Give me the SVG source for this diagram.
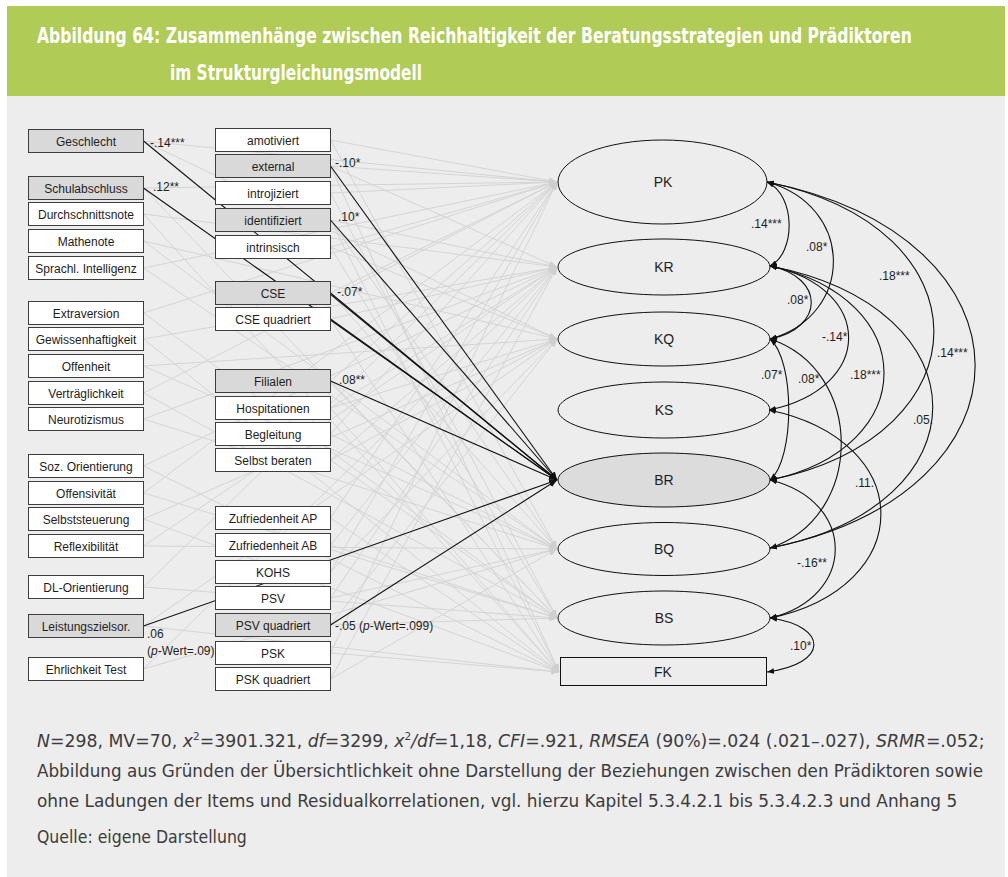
<svg xmlns="http://www.w3.org/2000/svg" width="1008" height="877" viewBox="0 0 1008 877">
<style>
  .box { fill:#ffffff; stroke:#3d3d3d; stroke-width:1; }
  .box.sel { fill:#d9d9d9; }
  .lbl { font-family:"Liberation Sans",Arial,sans-serif; font-size:12px; fill:#1e1e1e; text-anchor:middle; }
  .coef { font-family:"Liberation Sans",Arial,sans-serif; font-size:12px; fill:#1e1e1e; }
  .lv { fill:none; stroke:#111111; stroke-width:1; }
  .lv.dv { fill:#dcdcdc; }
  .lvt { font-family:"Liberation Sans",Arial,sans-serif; font-size:14px; fill:#1e1e1e; text-anchor:middle; }
  .ns { fill:none; stroke:#d4d4d4; stroke-width:1; marker-end:url(#ga); }
  .sig { fill:none; stroke:#111111; stroke-width:1.1; marker-end:url(#ba); }
  .cor { fill:none; stroke:#111111; stroke-width:1.1; marker-start:url(#ca); marker-end:url(#ca); }
  .title { font-family:"DejaVu Sans Condensed","DejaVu Sans","Liberation Sans",sans-serif; font-weight:bold; font-size:22px; fill:#ffffff; }
  .cap { font-family:"DejaVu Sans Condensed","DejaVu Sans","Liberation Sans",sans-serif; font-size:18px; fill:#3c3c3c; }
  .it { font-style:italic; }
</style>
<defs>
  <marker id="ba" viewBox="0 0 10 8" refX="10" refY="4" markerWidth="8" markerHeight="6.4" orient="auto" markerUnits="userSpaceOnUse">
    <path d="M0,0L10,4L0,8z" fill="#111111"/>
  </marker>
  <marker id="ga" viewBox="0 0 10 8" refX="10" refY="4" markerWidth="8" markerHeight="6.4" orient="auto" markerUnits="userSpaceOnUse">
    <path d="M0,0L10,4L0,8z" fill="#cfcfcf"/>
  </marker>
  <marker id="ca" viewBox="0 0 10 8" refX="10" refY="4" markerWidth="7" markerHeight="5.6" orient="auto-start-reverse" markerUnits="userSpaceOnUse">
    <path d="M0,0L10,4L0,8z" fill="#111111"/>
  </marker>
</defs>

<!-- page panels -->
<rect x="0" y="0" width="1008" height="877" fill="#ffffff"/>
<rect x="7" y="6" width="998" height="90" fill="#b0cb56"/>
<rect x="7" y="96" width="998" height="781" fill="#ededed"/>

<!-- heading, set in a narrowed face -->
<g id="title">
  <text class="title" transform="translate(37,43) scale(0.72,1)" x="0" y="0" textLength="1215" lengthAdjust="spacingAndGlyphs">Abbildung 64: Zusammenhänge zwischen Reichhaltigkeit der Beratungsstrategien und Prädiktoren</text>
  <text class="title" transform="translate(170,80) scale(0.72,1)" x="0" y="0" textLength="350" lengthAdjust="spacingAndGlyphs">im Strukturgleichungsmodell</text>
</g>

<g id="connectors">
  <!-- non-significant paths -->
  <g id="paths-ns">
    <path class="ns" d="M143.5 141L557 182"/><path class="ns" d="M143.5 141L557 339"/>
    <path class="ns" d="M143.5 188L557 182"/><path class="ns" d="M143.5 188L557 618"/>
    <path class="ns" d="M143.5 214L557 267"/><path class="ns" d="M143.5 214L559 672"/>
    <path class="ns" d="M143.5 241L557 339"/><path class="ns" d="M143.5 241L557 549"/>
    <path class="ns" d="M143.5 268L557 549"/><path class="ns" d="M143.5 268L557 182"/>
    <path class="ns" d="M143.5 313L557 182"/><path class="ns" d="M143.5 313L557 618"/>
    <path class="ns" d="M143.5 339L557 267"/><path class="ns" d="M143.5 339L559 672"/>
    <path class="ns" d="M143.5 366L557 339"/><path class="ns" d="M143.5 366L557 549"/>
    <path class="ns" d="M143.5 393L557 182"/><path class="ns" d="M143.5 393L557 618"/>
    <path class="ns" d="M143.5 419L557 549"/><path class="ns" d="M143.5 419L557 267"/>
    <path class="ns" d="M143.5 466L557 267"/><path class="ns" d="M143.5 466L559 672"/>
    <path class="ns" d="M143.5 493L557 182"/><path class="ns" d="M143.5 493L557 618"/>
    <path class="ns" d="M143.5 519L557 339"/><path class="ns" d="M143.5 519L559 672"/>
    <path class="ns" d="M143.5 546L557 267"/><path class="ns" d="M143.5 546L557 549"/>
    <path class="ns" d="M143.5 587L557 182"/><path class="ns" d="M143.5 587L557 618"/>
    <path class="ns" d="M143.5 626L557 339"/><path class="ns" d="M143.5 626L559 672"/>
    <path class="ns" d="M143.5 669L557 267"/><path class="ns" d="M143.5 669L557 549"/>
    <path class="ns" d="M330.5 140L557 182"/><path class="ns" d="M330.5 140L557 549"/>
    <path class="ns" d="M330.5 166L557 182"/><path class="ns" d="M330.5 166L557 267"/><path class="ns" d="M330.5 166L559 672"/>
    <path class="ns" d="M330.5 193L557 182"/><path class="ns" d="M330.5 193L557 618"/>
    <path class="ns" d="M330.5 220L557 267"/><path class="ns" d="M330.5 220L557 549"/><path class="ns" d="M330.5 220L559 672"/>
    <path class="ns" d="M330.5 247L557 182"/><path class="ns" d="M330.5 247L557 339"/><path class="ns" d="M330.5 247L557 618"/>
    <path class="ns" d="M330.5 293L557 182"/><path class="ns" d="M330.5 293L557 549"/>
    <path class="ns" d="M330.5 319L557 267"/><path class="ns" d="M330.5 319L559 672"/>
    <path class="ns" d="M330.5 381L557 182"/><path class="ns" d="M330.5 381L557 618"/>
    <path class="ns" d="M330.5 408L557 267"/><path class="ns" d="M330.5 408L557 339"/><path class="ns" d="M330.5 408L559 672"/>
    <path class="ns" d="M330.5 434L557 182"/><path class="ns" d="M330.5 434L557 549"/>
    <path class="ns" d="M330.5 460L557 267"/><path class="ns" d="M330.5 460L557 339"/><path class="ns" d="M330.5 460L557 618"/>
    <path class="ns" d="M330.5 518L557 182"/><path class="ns" d="M330.5 518L559 672"/>
    <path class="ns" d="M330.5 545L557 267"/><path class="ns" d="M330.5 545L557 618"/>
    <path class="ns" d="M330.5 572L557 182"/><path class="ns" d="M330.5 572L557 339"/>
    <path class="ns" d="M330.5 598L557 267"/><path class="ns" d="M330.5 598L557 549"/>
    <path class="ns" d="M330.5 625L557 339"/><path class="ns" d="M330.5 625L557 618"/>
    <path class="ns" d="M330.5 653L557 182"/><path class="ns" d="M330.5 653L559 672"/>
    <path class="ns" d="M330.5 679L557 267"/><path class="ns" d="M330.5 679L557 549"/>
  </g>
  <!-- significant paths into BR -->
  <g id="paths-sig">
    <path class="sig" d="M143.5 141L557 480"/>
    <path class="sig" d="M143.5 188L557 480"/>
    <path class="sig" d="M330.5 166L557 480"/>
    <path class="sig" d="M330.5 220L557 480"/>
    <path class="sig" d="M330.5 293L557 480"/>
    <path class="sig" d="M330.5 319L557 480"/>
    <path class="sig" d="M330.5 381L557 480"/>
    <path class="sig" d="M143.5 626L557 480"/>
    <path class="sig" d="M330.5 625L557 480"/>
  </g>
  <!-- covariances between outcomes -->
  <g id="correlations">
    <path class="cor" d="M767 182C796 195 796 253 770 266"/>
    <path class="cor" d="M767 182C855 206 855 315 770 339"/>
    <path class="cor" d="M767 182C989 227 989 435 770 480"/>
    <path class="cor" d="M767 182C1044 237 1044 493 770 548"/>
    <path class="cor" d="M770 266C825 277 825 328 770 339"/>
    <path class="cor" d="M770 266C875 288 875 388 769 410"/>
    <path class="cor" d="M770 266C922 298 922 448 770 480"/>
    <path class="cor" d="M770 266C987 308 987 506 770 548"/>
    <path class="cor" d="M770 339C795 360 795 459 770 480"/>
    <path class="cor" d="M770 339C865 370 865 517 770 548"/>
    <path class="cor" d="M769 410C918 441 918 587 770 618"/>
    <path class="cor" d="M770 480C857 501 857 597 770 618"/>
    <path class="cor" d="M770 618C829 626 829 664 767 672"/>
  </g>
</g>

<!-- predictors, first column -->
<g id="n-geschlecht"><rect class="box sel" x="28.5" y="129.5" width="115" height="23"/><text class="lbl" x="86" y="145.5">Geschlecht</text></g>
<g id="n-schulabschluss"><rect class="box sel" x="28.5" y="176.5" width="115" height="23"/><text class="lbl" x="86" y="192.5">Schulabschluss</text></g>
<g id="n-durchschnittsnote"><rect class="box" x="28.5" y="202.5" width="115" height="23"/><text class="lbl" x="86" y="218.5">Durchschnittsnote</text></g>
<g id="n-mathenote"><rect class="box" x="28.5" y="229.5" width="115" height="23"/><text class="lbl" x="86" y="245.5">Mathenote</text></g>
<g id="n-sprachl"><rect class="box" x="28.5" y="256.5" width="115" height="23"/><text class="lbl" x="86" y="272.5">Sprachl. Intelligenz</text></g>
<g id="n-extraversion"><rect class="box" x="28.5" y="301.5" width="115" height="23"/><text class="lbl" x="86" y="317.5">Extraversion</text></g>
<g id="n-gewissenhaftigkeit"><rect class="box" x="28.5" y="327.5" width="115" height="23"/><text class="lbl" x="86" y="343.5">Gewissenhaftigkeit</text></g>
<g id="n-offenheit"><rect class="box" x="28.5" y="354.5" width="115" height="23"/><text class="lbl" x="86" y="370.5">Offenheit</text></g>
<g id="n-vertraeglichkeit"><rect class="box" x="28.5" y="381.5" width="115" height="23"/><text class="lbl" x="86" y="397.5">Verträglichkeit</text></g>
<g id="n-neurotizismus"><rect class="box" x="28.5" y="407.5" width="115" height="23"/><text class="lbl" x="86" y="423.5">Neurotizismus</text></g>
<g id="n-soz"><rect class="box" x="28.5" y="454.5" width="115" height="23"/><text class="lbl" x="86" y="470.5">Soz. Orientierung</text></g>
<g id="n-offensivitaet"><rect class="box" x="28.5" y="481.5" width="115" height="23"/><text class="lbl" x="86" y="497.5">Offensivität</text></g>
<g id="n-selbststeuerung"><rect class="box" x="28.5" y="507.5" width="115" height="23"/><text class="lbl" x="86" y="523.5">Selbststeuerung</text></g>
<g id="n-reflexibilitaet"><rect class="box" x="28.5" y="534.5" width="115" height="23"/><text class="lbl" x="86" y="550.5">Reflexibilität</text></g>
<g id="n-dl"><rect class="box" x="28.5" y="575.5" width="115" height="23"/><text class="lbl" x="86" y="591.5">DL-Orientierung</text></g>
<g id="n-leistungsziel"><rect class="box sel" x="28.5" y="614.5" width="115" height="23"/><text class="lbl" x="86" y="630.5">Leistungszielsor.</text></g>
<g id="n-ehrlichkeit"><rect class="box" x="28.5" y="657.5" width="115" height="23"/><text class="lbl" x="86" y="673.5">Ehrlichkeit Test</text></g>

<!-- predictors, second column -->
<g id="n-amotiviert"><rect class="box" x="215.5" y="128.5" width="115" height="23"/><text class="lbl" x="273" y="144.5">amotiviert</text></g>
<g id="n-external"><rect class="box sel" x="215.5" y="154.5" width="115" height="23"/><text class="lbl" x="273" y="170.5">external</text></g>
<g id="n-introjiziert"><rect class="box" x="215.5" y="181.5" width="115" height="23"/><text class="lbl" x="273" y="197.5">introjiziert</text></g>
<g id="n-identifiziert"><rect class="box sel" x="215.5" y="208.5" width="115" height="23"/><text class="lbl" x="273" y="224.5">identifiziert</text></g>
<g id="n-intrinsisch"><rect class="box" x="215.5" y="235.5" width="115" height="23"/><text class="lbl" x="273" y="251.5">intrinsisch</text></g>
<g id="n-cse"><rect class="box sel" x="215.5" y="281.5" width="115" height="23"/><text class="lbl" x="273" y="297.5">CSE</text></g>
<g id="n-cse-q"><rect class="box" x="215.5" y="307.5" width="115" height="23"/><text class="lbl" x="273" y="323.5">CSE quadriert</text></g>
<g id="n-filialen"><rect class="box sel" x="215.5" y="369.5" width="115" height="23"/><text class="lbl" x="273" y="385.5">Filialen</text></g>
<g id="n-hospitationen"><rect class="box" x="215.5" y="396.5" width="115" height="23"/><text class="lbl" x="273" y="412.5">Hospitationen</text></g>
<g id="n-begleitung"><rect class="box" x="215.5" y="422.5" width="115" height="23"/><text class="lbl" x="273" y="438.5">Begleitung</text></g>
<g id="n-selbst-beraten"><rect class="box" x="215.5" y="448.5" width="115" height="23"/><text class="lbl" x="273" y="464.5">Selbst beraten</text></g>
<g id="n-zuf-ap"><rect class="box" x="215.5" y="506.5" width="115" height="23"/><text class="lbl" x="273" y="522.5">Zufriedenheit AP</text></g>
<g id="n-zuf-ab"><rect class="box" x="215.5" y="533.5" width="115" height="23"/><text class="lbl" x="273" y="549.5">Zufriedenheit AB</text></g>
<g id="n-kohs"><rect class="box" x="215.5" y="560.5" width="115" height="23"/><text class="lbl" x="273" y="576.5">KOHS</text></g>
<g id="n-psv"><rect class="box" x="215.5" y="586.5" width="115" height="23"/><text class="lbl" x="273" y="602.5">PSV</text></g>
<g id="n-psv-q"><rect class="box sel" x="215.5" y="613.5" width="115" height="23"/><text class="lbl" x="273" y="629.5">PSV quadriert</text></g>
<g id="n-psk"><rect class="box" x="215.5" y="641.5" width="115" height="23"/><text class="lbl" x="273" y="657.5">PSK</text></g>
<g id="n-psk-q"><rect class="box" x="215.5" y="667.5" width="115" height="23"/><text class="lbl" x="273" y="683.5">PSK quadriert</text></g>

<!-- outcomes -->
<g id="n-pk"><ellipse class="lv" cx="662.5" cy="182" rx="104.5" ry="42"/><text class="lvt" x="663" y="187">PK</text></g>
<g id="n-kr"><ellipse class="lv" cx="664" cy="267" rx="106" ry="28"/><text class="lvt" x="664" y="272">KR</text></g>
<g id="n-kq"><ellipse class="lv" cx="664" cy="339" rx="106" ry="27"/><text class="lvt" x="664" y="344">KQ</text></g>
<g id="n-ks"><ellipse class="lv" cx="664" cy="410" rx="106" ry="28"/><text class="lvt" x="664" y="415">KS</text></g>
<g id="n-br"><ellipse class="lv dv" cx="664" cy="480" rx="106" ry="27"/><text class="lvt" x="664" y="485">BR</text></g>
<g id="n-bq"><ellipse class="lv" cx="664" cy="549" rx="106" ry="26.5"/><text class="lvt" x="664" y="554">BQ</text></g>
<g id="n-bs"><ellipse class="lv" cx="664" cy="618" rx="106" ry="27"/><text class="lvt" x="664" y="623">BS</text></g>
<g id="n-fk"><rect class="lv" x="560.5" y="657.5" width="206" height="28" stroke="#3d3d3d"/><text class="lvt" x="663" y="677">FK</text></g>

<!-- path coefficients -->
<g id="coefficients">
  <text class="coef" x="150" y="147">-.14***</text>
  <text class="coef" x="153" y="191">.12**</text>
  <text class="coef" x="335" y="167">-.10*</text>
  <text class="coef" x="338" y="221">.10*</text>
  <text class="coef" x="337" y="296">-.07*</text>
  <text class="coef" x="339" y="384">.08**</text>
  <text class="coef" x="335" y="630">-.05 (<tspan class="it">p</tspan>-Wert=.099)</text>
  <text class="coef" x="147" y="638">.06</text>
  <text class="coef" x="147" y="655">(<tspan class="it">p</tspan>-Wert=.09)</text>
  <text class="coef" x="751" y="228">.14***</text>
  <text class="coef" x="806" y="251">.08*</text>
  <text class="coef" x="879" y="280">.18***</text>
  <text class="coef" x="787" y="304">.08*</text>
  <text class="coef" x="822" y="341">-.14*</text>
  <text class="coef" x="937" y="357">.14***</text>
  <text class="coef" x="761" y="379">.07*</text>
  <text class="coef" x="798" y="383">.08*</text>
  <text class="coef" x="850" y="379">.18***</text>
  <text class="coef" x="913" y="424">.05.</text>
  <text class="coef" x="855" y="487">.11.</text>
  <text class="coef" x="797" y="567">-.16**</text>
  <text class="coef" x="790" y="650">.10*</text>
</g>

<g id="caption">
  <text class="cap" transform="translate(37,747) scale(0.86,1)" x="0" y="0" textLength="1102" lengthAdjust="spacingAndGlyphs"><tspan class="it">N</tspan>=298, MV=70, <tspan class="it">x</tspan><tspan font-size="11" dy="-7">2</tspan><tspan dy="7">=3901.321, </tspan><tspan class="it">df</tspan>=3299, <tspan class="it">x</tspan><tspan font-size="11" dy="-7">2</tspan><tspan class="it" dy="7">/df</tspan>=1,18, <tspan class="it">CFI</tspan>=.921, <tspan class="it">RMSEA</tspan> (90%)=.024 (.021–.027), <tspan class="it">SRMR</tspan>=.052;</text>
  <text class="cap" transform="translate(37,777) scale(0.86,1)" x="0" y="0" textLength="1100" lengthAdjust="spacingAndGlyphs">Abbildung aus Gründen der Übersichtlichkeit ohne Darstellung der Beziehungen zwischen den Prädiktoren sowie</text>
  <text class="cap" transform="translate(37,807) scale(0.86,1)" x="0" y="0" textLength="1070" lengthAdjust="spacingAndGlyphs">ohne Ladungen der Items und Residualkorrelationen, vgl. hierzu Kapitel 5.3.4.2.1 bis 5.3.4.2.3 und Anhang 5</text>
  <text class="cap" transform="translate(37,843) scale(0.86,1)" x="0" y="0" textLength="244" lengthAdjust="spacingAndGlyphs">Quelle: eigene Darstellung</text>
</g>
</svg>
